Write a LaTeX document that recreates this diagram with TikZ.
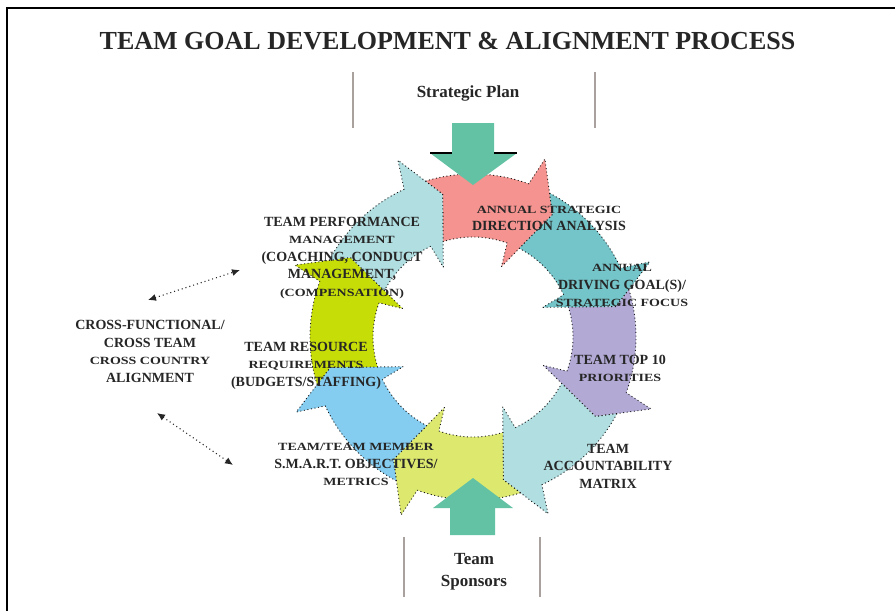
\documentclass[tikz,border=0pt]{standalone}
\usepackage{fontspec}
\setmainfont{Liberation Serif}
\usepackage{graphicx}
\usetikzlibrary{arrows.meta}

\definecolor{segpink}{HTML}{F4938F}
\definecolor{segteal}{HTML}{73C5C9}
\definecolor{seglav}{HTML}{B2A9D5}
\definecolor{segcyan}{HTML}{B1DEE1}
\definecolor{segyellow}{HTML}{DDE96E}
\definecolor{segblue}{HTML}{84CCF0}
\definecolor{seglime}{HTML}{C7DD07}
\definecolor{feedgreen}{HTML}{63C2A3}
\definecolor{guidegray}{HTML}{A9A19E}

% narrower, lower caps line stretched to the common width
\newcommand\smline[1]{\scalebox{1.27}[1]{\fontsize{11}{17.5}\selectfont #1}}

\tikzset{
  segment/.style={draw=black!90, line width=0.9pt, dash pattern=on 1pt off 2.6pt, line join=round},
  lab/.style={font=\bfseries\fontsize{14}{17.5}\selectfont, align=center, text=black!85, inner sep=0pt},
  guide/.style={draw=guidegray, line width=1.5pt},
  link/.style={dash pattern=on 1pt off 3pt, line width=1.1pt, draw=black!85,
    {Latex[length=8pt,width=7pt]}-{Latex[length=8pt,width=7pt]}},
}

% one curved block arrow of the cycle: tail at angle #1, head 45 degrees clockwise
\newcommand\ringseg[2]{%
  \pgfmathsetmacro\sgA{#1-6.03}%
  \pgfmathsetmacro\sgB{#1-5.59}%
  \pgfmathsetmacro\sgN{#1-11}%
  \pgfmathsetmacro\sgH{#1-45}%
  \pgfmathsetmacro\sgS{#1-43}%
  \pgfmathsetmacro\sgP{#1-56}%
  \path[segment, fill=#2] (\sgA:163) arc[start angle=\sgA, end angle=\sgS, radius=163]
    -- (\sgH:192) -- (\sgP:146) -- (\sgH:76) -- (\sgS:100)
    arc[start angle=\sgS, end angle=\sgB, radius=100] -- (\sgN:146) -- cycle;}

\begin{document}
\begin{tikzpicture}[x=1pt,y=-1pt]
\useasboundingbox (0,0) rectangle (895,611);
\fill[white] (0,0) rectangle (895,611);

% page frame (top and left rules)
\draw[line width=2pt] (7,611) -- (7,8) -- (895,8);

\node[font=\bfseries\fontsize{26}{30}\selectfont, text=black!85, inner sep=0pt] (title) at (447.5,41)
  {TEAM GOAL DEVELOPMENT \& ALIGNMENT PROCESS};

% the cycle
\begin{scope}[shift={(473,337)}, yscale=-1]
  \ringseg{113}{segpink}
  \ringseg{68}{segteal}
  \ringseg{23}{seglav}
  \ringseg{-22}{segcyan}
  \ringseg{-67}{segyellow}
  \ringseg{-112}{segblue}
  \ringseg{-157}{seglime}
  \ringseg{-202}{segcyan}
\end{scope}

% input from the strategic plan
\draw[guide] (353,72) -- (353,128);
\draw[guide] (595,72) -- (595,128);
\node[font=\bfseries\fontsize{17}{20}\selectfont, text=black!85, inner sep=0pt] (plan) at (468,93) {Strategic Plan};
\path[fill=feedgreen] (452,123) -- (494,123) -- (494,153) -- (517,153) -- (473,185) -- (430,153) -- (452,153) -- cycle;
\draw[line width=1.6pt] (430,153) -- (452,153) (494,153) -- (517,153);

% input from the team sponsors
\draw[guide] (404,537) -- (404,597);
\draw[guide] (540,537) -- (540,597);
\node[font=\bfseries\fontsize{17}{22}\selectfont, text=black!85, align=center, inner sep=0pt] (sponsors) at (474,572) {Team\\Sponsors};
\path[fill=feedgreen] (450,535) -- (495,535) -- (495,508) -- (513,508) -- (473,478) -- (433,508) -- (450,508) -- cycle;

% stage labels
\node[lab] (direction) at (549,218.5) {\smline{ANNUAL STRATEGIC}\\DIRECTION ANALYSIS};
\node[lab] (driving) at (622,285.5) {\smline{ANNUAL}\\DRIVING GOAL(S)/\\\smline{STRATEGIC FOCUS}};
\node[lab] (topten) at (620,368.5) {TEAM TOP 10\\\smline{PRIORITIES}};
\node[lab] (matrix) at (608,466) {TEAM\\ACCOUNTABILITY\\MATRIX};
\node[lab] (smart) at (356,464.5) {\smline{TEAM/TEAM MEMBER}\\S.M.A.R.T. OBJECTIVES/\\\smline{METRICS}};
\node[lab] (resource) at (306,365.5) {TEAM RESOURCE\\\smline{REQUIREMENTS}\\(BUDGETS/STAFFING)};
\node[lab] (perform) at (342,258) {TEAM PERFORMANCE\\\smline{MANAGEMENT}\\(COACHING, CONDUCT\\MANAGEMENT,\\\smline{(COMPENSATION)}};

% cross-functional alignment and its links
\node[lab] (align) at (150,351.5) {CROSS-FUNCTIONAL/\\CROSS TEAM\\\smline{CROSS COUNTRY}\\ALIGNMENT};
\coordinate (upA) at (148,300);
\coordinate (upB) at (240,270);
\coordinate (loA) at (157,413);
\coordinate (loB) at (233,465);
\draw[link] (upA) -- (upB);
\draw[link] (loA) -- (loB);
\end{tikzpicture}
\end{document}
